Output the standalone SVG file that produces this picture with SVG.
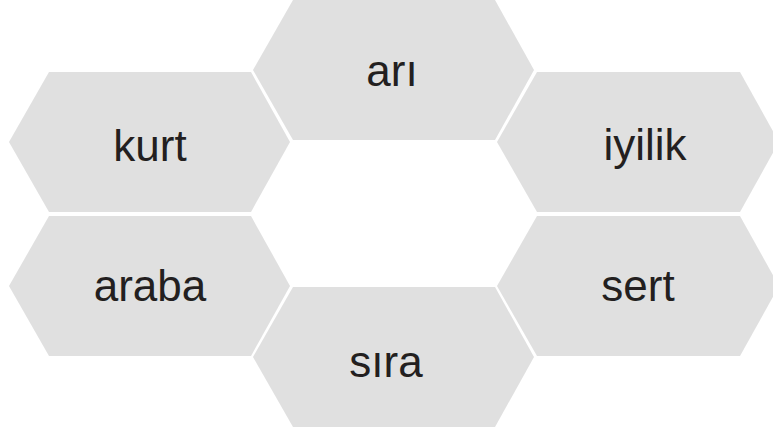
<svg xmlns="http://www.w3.org/2000/svg" width="773" height="434" viewBox="0 0 773 434">
<style>
.hex{fill:#e0e0e0;stroke:none}
.lbl{font-family:"Liberation Sans",Arial,sans-serif;font-size:44px;fill:#231f20;text-anchor:middle}
</style>
<rect width="773" height="434" fill="#ffffff"/>
<g id="node-ari">
<polygon class="hex" points="293,0 495,0 534,70 495,140 293,140 253,70"/>
<text class="lbl" x="392" y="86">arı</text>
</g>
<g id="node-kurt">
<polygon class="hex" points="49,72 251,72 290,142 251,212 49,212 9,142"/>
<text class="lbl" x="150" y="161">kurt</text>
</g>
<g id="node-iyilik">
<polygon class="hex" points="537,72 740,72 779,142 740,212 537,212 497,142"/>
<text class="lbl" x="645" y="160">iyilik</text>
</g>
<g id="node-araba">
<polygon class="hex" points="49,216 251,216 290,286 251,356 49,356 9,286"/>
<text class="lbl" x="150" y="301">araba</text>
</g>
<g id="node-sert">
<polygon class="hex" points="537,216 740,216 779,286 740,356 537,356 497,286"/>
<text class="lbl" x="638" y="301">sert</text>
</g>
<g id="node-sira">
<polygon class="hex" points="293,287 495,287 534,357 495,427 293,427 253,357"/>
<text class="lbl" x="386" y="377">sıra</text>
</g>
<g id="connectors"></g>
</svg>
